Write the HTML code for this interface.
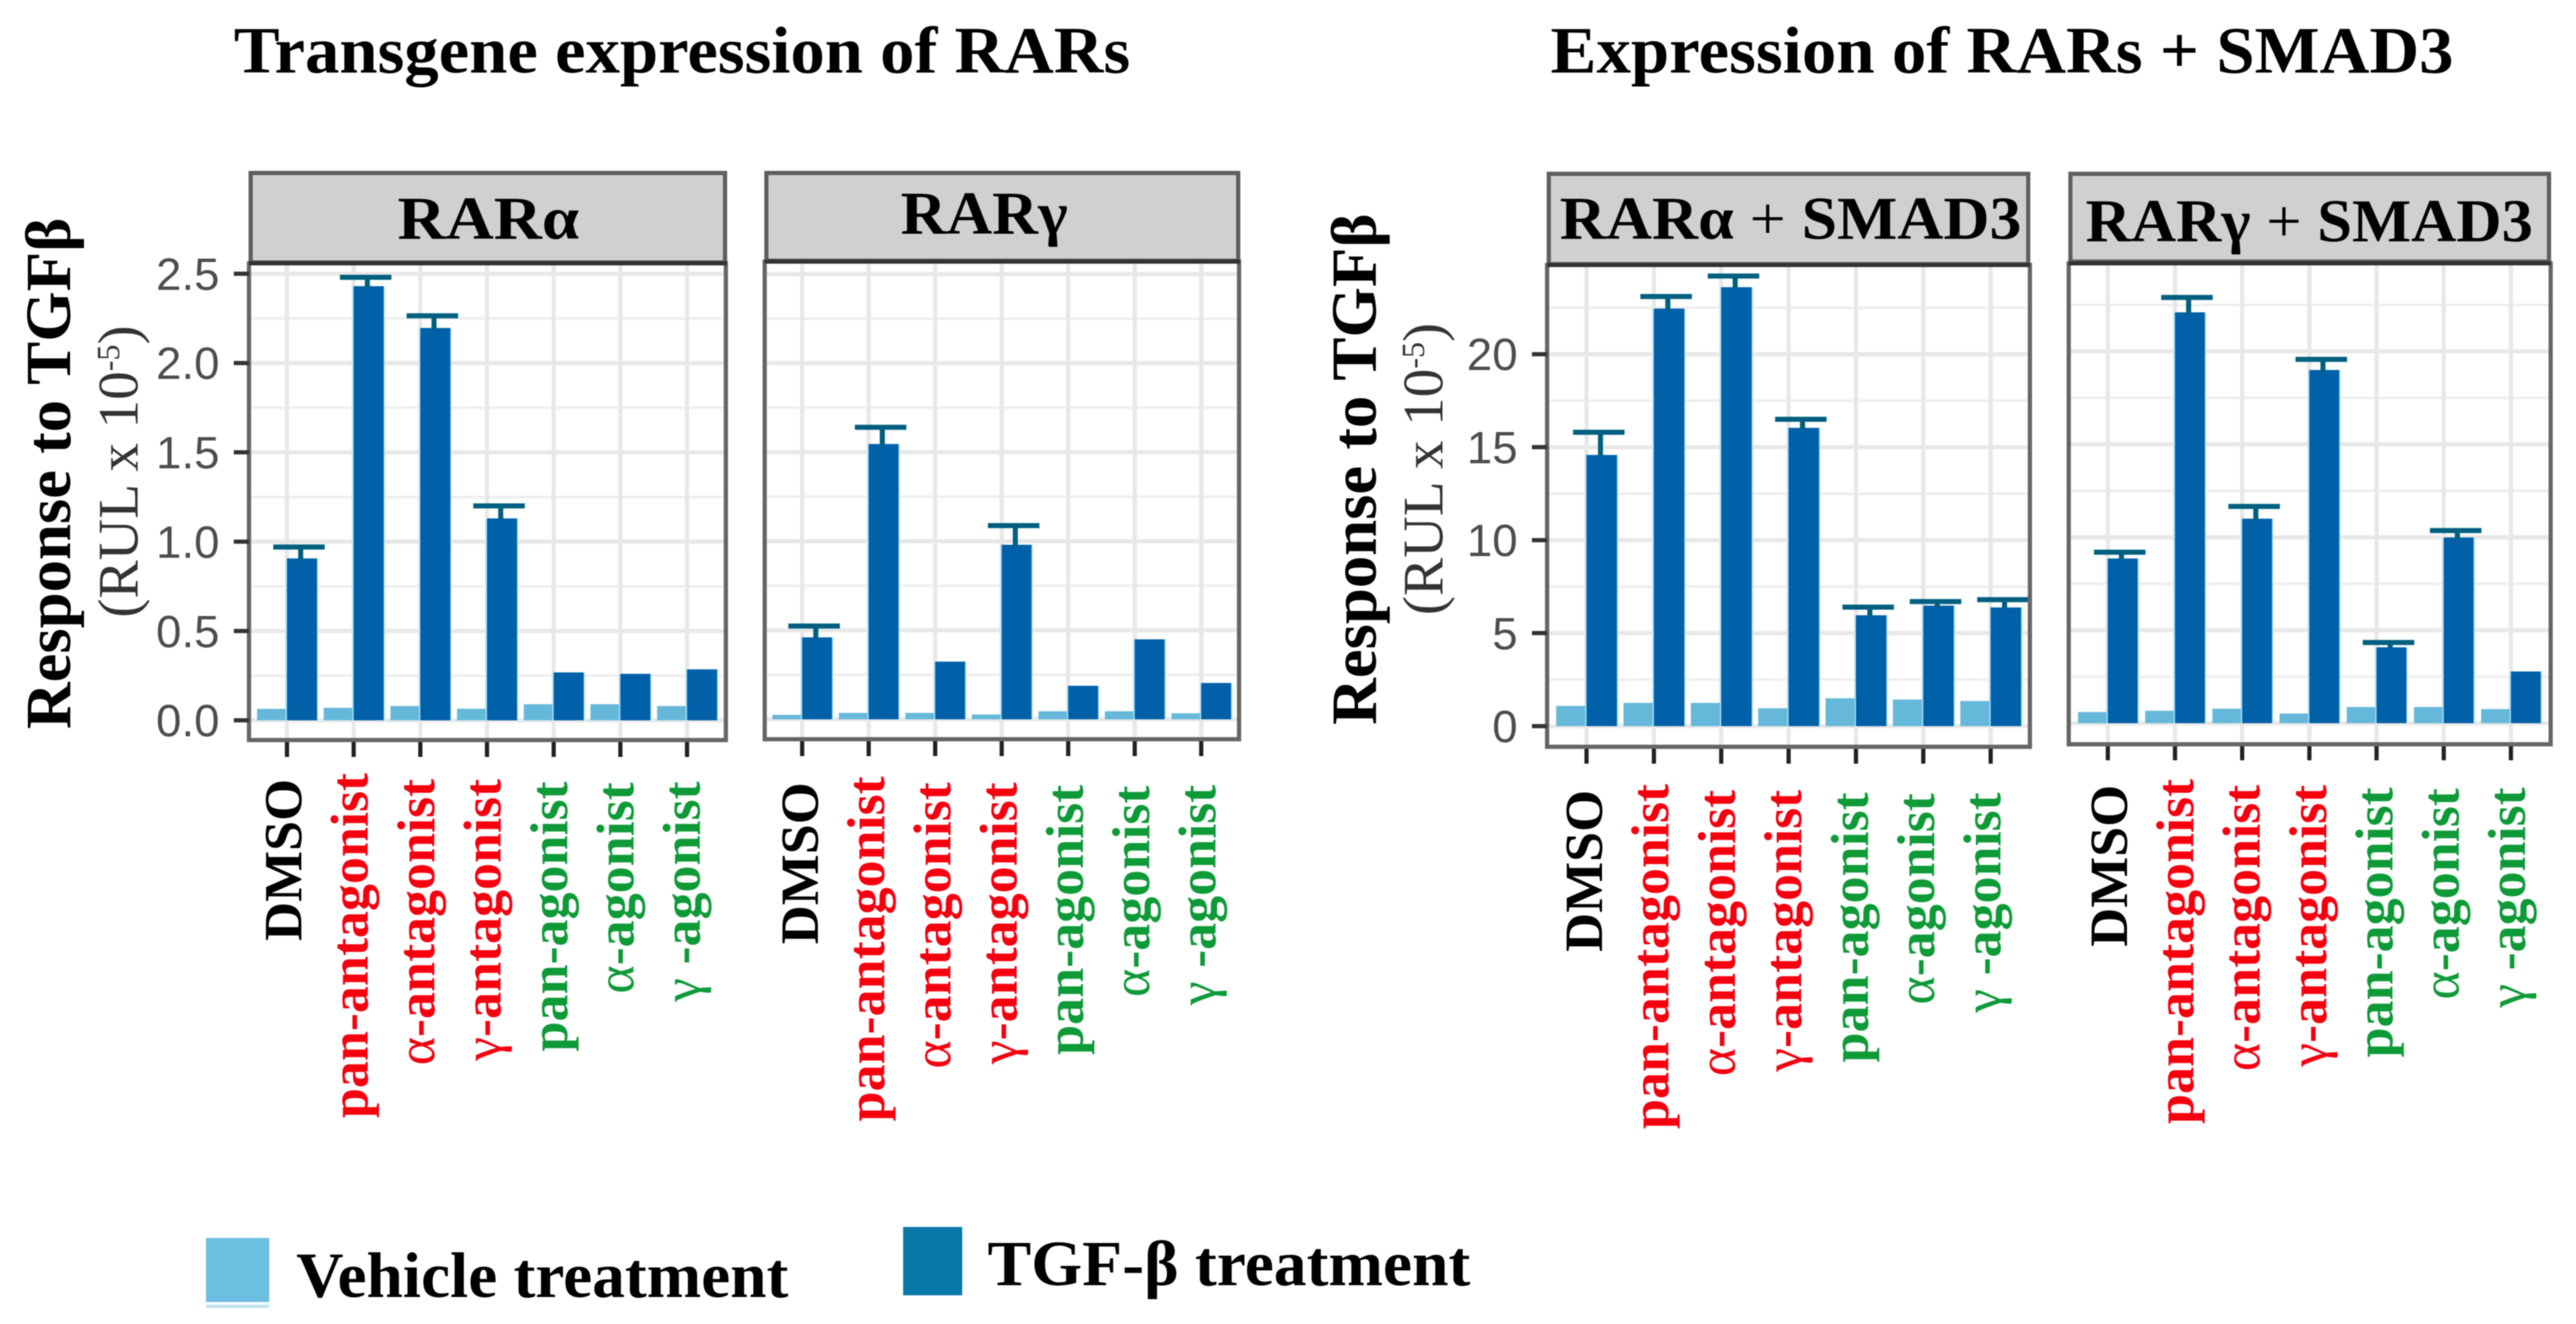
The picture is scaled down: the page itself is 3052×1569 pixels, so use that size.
<!DOCTYPE html>
<html lang="en">
<head>
<meta charset="utf-8">
<title>Response to TGFβ for RAR transgene expression</title>
<style>
html,body{margin:0;padding:0;background:#fff;}
svg{display:block;filter:blur(0.6px);}
text{font-family:"Liberation Serif","Noto Serif CJK SC",serif;}
.sans{font-family:"Liberation Sans","Noto Sans CJK SC",sans-serif;}
</style>
</head>
<body>
<svg id="figure" xmlns="http://www.w3.org/2000/svg" width="3052" height="1569" viewBox="0 0 3052 1569">
  <rect x="0" y="0" width="3052" height="1569" fill="#fff"/>
  <g id="chart-layer"></g>

  <text x="277" y="86" font-size="78" font-weight="700" textLength="1062" lengthAdjust="spacingAndGlyphs">Transgene expression of RARs</text>
  <text x="1837" y="86" font-size="78" font-weight="700" textLength="1070" lengthAdjust="spacingAndGlyphs">Expression of RARs + SMAD3</text>

  <text transform="translate(83,864) rotate(-90)" font-size="76" font-weight="700" textLength="606" lengthAdjust="spacingAndGlyphs">Response to TGFβ</text>
  <text transform="translate(163,732) rotate(-90)" font-size="68" fill="#333">(RUL x 10<tspan font-size="38" dy="-22">-5</tspan><tspan dy="22">)</tspan></text>
  <text transform="translate(1630,859) rotate(-90)" font-size="76" font-weight="700" textLength="606" lengthAdjust="spacingAndGlyphs">Response to TGFβ</text>
  <text transform="translate(1709,729) rotate(-90)" font-size="68" fill="#333">(RUL x 10<tspan font-size="38" dy="-22">-5</tspan><tspan dy="22">)</tspan></text>

  <g>
    <rect x="297" y="205" width="562" height="106" fill="#d0d0d0" stroke="#5f5f5f" stroke-width="5"/>
    <line x1="295" x2="861" y1="312" y2="312" stroke="#333" stroke-width="5"/>
    <text x="471" y="283" font-size="72" font-weight="700" textLength="215" lengthAdjust="spacingAndGlyphs">RARα</text>
  </g>
  <g>
    <rect x="908" y="205" width="559" height="104" fill="#d0d0d0" stroke="#5f5f5f" stroke-width="5"/>
    <line x1="906" x2="1469" y1="310" y2="310" stroke="#333" stroke-width="5"/>
    <text x="1067" y="277" font-size="72" font-weight="700" textLength="198" lengthAdjust="spacingAndGlyphs">RARγ</text>
  </g>
  <g>
    <rect x="1835" y="206" width="568" height="107" fill="#d0d0d0" stroke="#5f5f5f" stroke-width="5"/>
    <line x1="1833" x2="2405" y1="314" y2="314" stroke="#333" stroke-width="5"/>
    <text x="1848" y="283" font-size="72" font-weight="700" textLength="547" lengthAdjust="spacingAndGlyphs">RARα <tspan font-weight="400">+</tspan> SMAD3</text>
  </g>
  <g>
    <rect x="2453" y="206" width="567" height="104" fill="#d0d0d0" stroke="#5f5f5f" stroke-width="5"/>
    <line x1="2451" x2="3022" y1="312" y2="312" stroke="#333" stroke-width="5"/>
    <text x="2471" y="286" font-size="72" font-weight="700" textLength="530" lengthAdjust="spacingAndGlyphs">RARγ <tspan font-weight="400">+</tspan> SMAD3</text>
  </g>

  <g>
    <rect x="244" y="1467" width="75" height="76" fill="#6cbfe0"/>
    <rect x="244" y="1546" width="75" height="4" fill="#bfe3f2"/>
    <text x="351" y="1537" font-size="76" font-weight="700" textLength="583" lengthAdjust="spacingAndGlyphs">Vehicle treatment</text>
    <rect x="1070" y="1454" width="70" height="81" fill="#0a78a8"/>
    <text x="1170" y="1523" font-size="76" font-weight="700" textLength="572" lengthAdjust="spacingAndGlyphs">TGF-β treatment</text>
  </g>
</svg>

<script>
// ---- chart data ----
const categories = ['DMSO', 'pan-antagonist', 'α-antagonist', 'γ-antagonist', 'pan-agonist', 'α-agonist', 'γ -agonist'];
const categoryKinds = ['control', 'antagonist', 'antagonist', 'antagonist', 'agonist', 'agonist', 'agonist'];

const leftMajorTicks = [0, 0.5, 1, 1.5, 2, 2.5];
const leftMinorTicks = [0.25, 0.75, 1.25, 1.75, 2.25];
const leftTickLabels = ['0.0', '0.5', '1.0', '1.5', '2.0', '2.5'];
const rightMajorTicks = [0, 5, 10, 15, 20];
const rightMinorTicks = [2.5, 7.5, 12.5, 17.5, 22.5];
const rightTickLabels = ['0', '5', '10', '15', '20'];

const rarAlphaVehicle = [0.064, 0.07, 0.08, 0.065, 0.09, 0.09, 0.08];
const rarAlphaTgf = [0.906, 2.43, 2.196, 1.13, 0.268, 0.26, 0.285];
const rarAlphaErrorTop = [0.97, 2.48, 2.264, 1.2, null, null, null];

const rarGammaVehicle = [0.025, 0.036, 0.036, 0.027, 0.045, 0.045, 0.034];
const rarGammaTgf = [0.46, 1.546, 0.324, 0.98, 0.188, 0.449, 0.204];
const rarGammaErrorTop = [0.524, 1.64, null, 1.088, null, null, null];

const rarAlphaSmadVehicle = [1.09, 1.25, 1.25, 0.96, 1.5, 1.43, 1.35];
const rarAlphaSmadTgf = [14.58, 22.45, 23.6, 16.04, 5.96, 6.48, 6.38];
const rarAlphaSmadErrorTop = [15.8, 23.1, 24.2, 16.5, 6.4, 6.7, 6.8];

const rarGammaSmadVehicle = [0.6, 0.67, 0.78, 0.52, 0.87, 0.87, 0.76];
const rarGammaSmadTgf = [8.86, 22.1, 11, 19, 4.08, 9.99, 2.78];
const rarGammaSmadErrorTop = [9.2, 22.9, 11.66, 19.57, 4.34, 10.36, null];

// ---- layout and styling ----
const SVG_NS = 'http://www.w3.org/2000/svg';
const kindColor = { control: '#000000', antagonist: '#f5000f', agonist: '#0f9a38' };
const panelConfigs = [
  { id: 'rar-alpha', left: 295, right: 860, top: 312, bottom: 877, zero: 853.6, unit: 211.7, tick0: 340, step: 79, barW: 35.5, labelX0: 357, labelStep: 78.7, labelTop: 923, labelSize: 64, tickEnd: 897,
    vehicle: rarAlphaVehicle, tgf: rarAlphaTgf, err: rarAlphaErrorTop, major: leftMajorTicks, minor: leftMinorTicks, tickLabels: leftTickLabels, showY: true },
  { id: 'rar-gamma', left: 906, right: 1468, top: 310, bottom: 876, zero: 852.4, unit: 211, tick0: 950.4, step: 78.8, barW: 35.3, labelX0: 969, labelStep: 78.5, labelTop: 927, labelSize: 64, tickEnd: 896,
    vehicle: rarGammaVehicle, tgf: rarGammaTgf, err: rarGammaErrorTop, major: leftMajorTicks, minor: leftMinorTicks, tickLabels: leftTickLabels, showY: false },
  { id: 'rar-alpha-smad3', left: 1833, right: 2405, top: 314, bottom: 885, zero: 860.5, unit: 22.04, tick0: 1879.7, step: 79.8, barW: 36, labelX0: 1898, labelStep: 78.7, labelTop: 936, labelSize: 64, tickEnd: 905,
    vehicle: rarAlphaSmadVehicle, tgf: rarAlphaSmadTgf, err: rarAlphaSmadErrorTop, major: rightMajorTicks, minor: rightMinorTicks, tickLabels: rightTickLabels, showY: true },
  { id: 'rar-gamma-smad3', left: 2451, right: 3022, top: 312, bottom: 882, zero: 857, unit: 22.03, tick0: 2497.3, step: 79.6, barW: 35.3, labelX0: 2520, labelStep: 78.6, labelTop: 930, labelSize: 64, tickEnd: 901,
    vehicle: rarGammaSmadVehicle, tgf: rarGammaSmadTgf, err: rarGammaSmadErrorTop, major: rightMajorTicks, minor: rightMinorTicks, tickLabels: rightTickLabels, showY: false }
];
const labelLift = { 'pan-antagonist': -7, 'pan-agonist': 3, 'α-agonist': 4, 'γ -agonist': 3 };

function make(tag, attrs, parent) {
  const node = document.createElementNS(SVG_NS, tag);
  for (const key in attrs) node.setAttribute(key, attrs[key]);
  parent.appendChild(node);
  return node;
}

function drawPanel(p) {
  const layer = document.getElementById('chart-layer');
  const yScale = function (v) { return p.zero - v * p.unit; };
  const xScale = function (i) { return p.tick0 + i * p.step; };

  const g = make('g', {}, layer);
  
  

  const bg = make('rect', { x: p.left, y: p.top, width: p.right - p.left, height: p.bottom - p.top, fill: '#fff' }, g);
  
  

  p.minor.forEach(function (v) {
    const line = make('line', { x1: p.left, x2: p.right, y1: yScale(v), y2: yScale(v), stroke: '#eeeeee', 'stroke-width': 3 }, g);
    
    
  });
  p.major.forEach(function (v) {
    const line = make('line', { x1: p.left, x2: p.right, y1: yScale(v), y2: yScale(v), stroke: '#e8e8e8', 'stroke-width': 5 }, g);
    
    
  });
  categories.forEach(function (c, i) {
    const line = make('line', { x1: xScale(i), x2: xScale(i), y1: p.top, y2: p.bottom, stroke: '#e8e8e8', 'stroke-width': 5 }, g);
    
    
  });

  categories.forEach(function (c, i) {
    const x = xScale(i);
    const vehicleBar = make('rect', { x: x - p.barW, y: yScale(p.vehicle[i]), width: p.barW, height: p.zero - yScale(p.vehicle[i]), fill: '#66b8da' }, g);
    
    

    const halo = make('rect', { x: x - 1.5, y: yScale(p.tgf[i]), width: p.barW + 3, height: p.zero - yScale(p.tgf[i]), fill: '#a8e0f8' }, g);
    
    

    const tgfBar = make('rect', { x: x, y: yScale(p.tgf[i]), width: p.barW, height: p.zero - yScale(p.tgf[i]), fill: '#0060a8' }, g);
    
    

    if (p.err[i] !== null) {
      const stemX = x + p.barW / 2 - 1.5;
      const stem = make('line', { x1: stemX, x2: stemX, y1: yScale(p.tgf[i]) + 2, y2: yScale(p.err[i]), stroke: '#005f80', 'stroke-width': 6 }, g);
      
      

      const capX = x + p.barW / 2 - 3.5;
      const cap = make('line', { x1: capX - 30.5, x2: capX + 30.5, y1: yScale(p.err[i]), y2: yScale(p.err[i]), stroke: '#005f80', 'stroke-width': 6 }, g);
      
      
    }

    const tick = make('line', { x1: x, x2: x, y1: p.bottom, y2: p.tickEnd, stroke: '#222', 'stroke-width': 5 }, g);
    
    

    const kind = categoryKinds[i];
    const labelX = p.labelX0 + i * p.labelStep;
    const labelY = p.labelTop + (labelLift[c] || 0);
    const label = make('text', {
      transform: 'translate(' + labelX + ',' + labelY + ') rotate(-90)',
      'text-anchor': 'end',
      'font-size': p.labelSize,
      'font-weight': 700,
      fill: kindColor[kind]
    }, g);
    
    
    const first = c.charAt(0);
    if (first === 'α' || first === 'γ') {
      const greek = make('tspan', { 'font-weight': 400 }, label);
      greek.textContent = first;
      const rest = make('tspan', {}, label);
      rest.textContent = c.slice(1);
    } else {
      label.textContent = c;
    }
  });

  const frame = make('rect', { x: p.left, y: p.top, width: p.right - p.left, height: p.bottom - p.top, fill: 'none', stroke: '#666', 'stroke-width': 5 }, g);
  
  

  if (p.showY) {
    p.major.forEach(function (v, k) {
      const yTick = make('line', { x1: p.left - 18, x2: p.left, y1: yScale(v), y2: yScale(v), stroke: '#333', 'stroke-width': 5 }, g);
      
      

      const yLabel = make('text', { class: 'sans', x: p.left - 35, y: yScale(v) + 19, 'text-anchor': 'end', 'font-size': 54, fill: '#4d4d4d' }, g);
      
      
      yLabel.textContent = p.tickLabels[k];
    });
  }
}

panelConfigs.forEach(drawPanel);
</script>
</body>
</html>
